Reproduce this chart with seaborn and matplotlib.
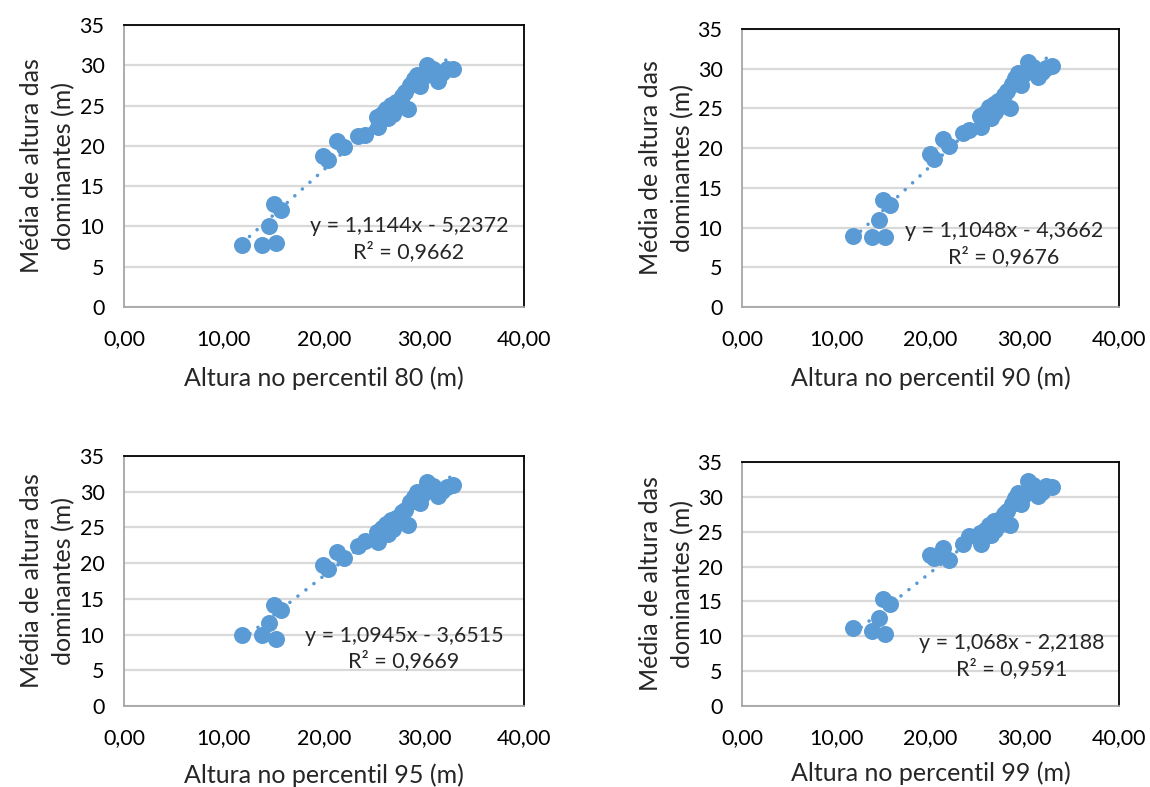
import matplotlib
matplotlib.use("Agg")
import matplotlib.pyplot as plt
import seaborn as sns
import numpy as np
import pandas as pd

# ---- data ----
x_vals = [11.8, 13.8, 15.2, 14.5, 15.0, 15.7, 19.9, 20.4, 21.3, 22.0, 23.4, 24.1,
          25.3, 25.4, 25.8, 26.2, 26.4, 26.7, 26.9, 27.2, 27.5, 27.8, 28.4, 28.1,
          28.6, 29.0, 29.3, 29.6, 29.9, 30.3, 30.6, 30.9, 31.4, 31.8, 32.3, 32.9]
y_p80 = [7.7, 7.7, 8.0, 10.1, 12.8, 12.1, 18.8, 18.2, 20.6, 19.9, 21.2, 21.4,
         23.6, 22.4, 23.9, 24.6, 23.4, 25.1, 24.0, 25.4, 24.9, 26.2, 24.6, 26.7,
         27.6, 28.3, 28.8, 27.4, 28.6, 30.1, 29.3, 29.6, 28.1, 29.0, 29.5, 29.5]
y_p90 = [8.9, 8.8, 8.8, 10.9, 13.5, 12.8, 19.3, 18.6, 21.1, 20.3, 21.9, 22.3,
         24.0, 22.6, 24.4, 25.2, 23.8, 25.6, 24.5, 25.9, 25.3, 26.7, 25.0, 27.2,
         28.1, 28.8, 29.4, 28.0, 29.3, 30.8, 29.9, 30.2, 28.9, 29.6, 30.1, 30.3]
y_p95 = [10.0, 9.9, 9.4, 11.6, 14.2, 13.5, 19.8, 19.2, 21.6, 20.7, 22.4, 23.1,
         24.4, 22.9, 24.9, 25.5, 24.1, 26.0, 24.8, 26.3, 25.8, 27.1, 25.4, 27.5,
         28.5, 29.2, 29.9, 28.4, 29.7, 31.4, 30.5, 30.8, 29.4, 30.1, 30.7, 30.9]
y_p99 = [11.2, 10.8, 10.3, 12.6, 15.3, 14.6, 21.7, 21.2, 22.6, 21.0, 23.2, 24.4,
         24.8, 23.3, 25.3, 26.0, 24.5, 26.5, 25.2, 26.7, 26.1, 27.5, 26.0, 28.0,
         29.0, 29.8, 30.5, 29.0, 30.3, 32.2, 31.3, 31.7, 30.1, 30.7, 31.6, 31.4]

percentis = ["80", "90", "95", "99"]
slopes = [1.1144, 1.1048, 1.0945, 1.068]
intercepts = [-5.2372, -4.3662, -3.6515, -2.2188]
eq_labels = ["y = 1,1144x - 5,2372\nR² = 0,9662",
             "y = 1,1048x - 4,3662\nR² = 0,9676",
             "y = 1,0945x - 3,6515\nR² = 0,9669",
             "y = 1,068x - 2,2188\nR² = 0,9591"]
x_ticks = [0, 10, 20, 30, 40]
x_tick_labels = ["0,00", "10,00", "20,00", "30,00", "40,00"]
y_ticks = [0, 5, 10, 15, 20, 25, 30, 35]

# ---- style ----
sns.set_theme(style="white")
plt.rcParams['font.family'] = ['Lato', 'DejaVu Sans']

BLUE = "#5B9BD5"
fig = plt.figure(figsize=(11.5, 7.87), dpi=100)

# axes rectangles [left, bottom, width, height]
rects = [
    [0.1078, 0.6099, 0.3478, 0.3583],
    [0.6452, 0.6099, 0.3278, 0.3533],
    [0.1078, 0.1029, 0.3478, 0.3177],
    [0.6452, 0.1029, 0.3278, 0.3101],
]
eq_pos = [(28.5, 8.45), (27.8, 7.9), (28.0, 8.05), (28.6, 7.2)]
ylab_x = [-0.19, -0.20, -0.19, -0.20]
xlab_y = [-0.252, -0.255, -0.276, -0.276]

ys = [y_p80, y_p90, y_p95, y_p99]

for i in range(4):
    ax = fig.add_axes(rects[i])
    df = pd.DataFrame({"x": x_vals, "y": ys[i]})
    # trend line
    xl = np.array([min(x_vals), max(x_vals)])
    ax.plot(xl, slopes[i] * xl + intercepts[i], color=BLUE, lw=2.6,
            linestyle=(0, (0.01, 2.8)), dash_capstyle="round", zorder=2)
    sns.scatterplot(data=df, x="x", y="y", ax=ax, color=BLUE, s=150,
                    linewidth=0, alpha=1, zorder=3, legend=False)
    ax.set_xlim(0, 40)
    ax.set_ylim(0, 35)
    ax.set_xticks(x_ticks)
    ax.set_xticklabels(x_tick_labels)
    ax.set_yticks(y_ticks)
    ax.set_yticklabels([str(v) for v in y_ticks])
    ax.tick_params(axis="both", length=0, labelsize=15.5, colors="#000000")
    ax.tick_params(axis="x", pad=16)
    ax.tick_params(axis="y", pad=14)
    ax.yaxis.grid(True, color="#D9D9D9", lw=1.6)
    ax.xaxis.grid(False)
    ax.set_axisbelow(True)
    for side in ["top", "right"]:
        ax.spines[side].set_color("#000000")
        ax.spines[side].set_linewidth(1.3)
    for side in ["left", "bottom"]:
        ax.spines[side].set_color("#A6A6A6")
        ax.spines[side].set_linewidth(1.3)
    ax.set_xlabel(f"Altura no percentil {percentis[i]} (m)", fontsize=18)
    ax.set_ylabel("Média de altura das\ndominantes (m)", fontsize=18)
    ax.yaxis.label.set_linespacing(1.45)
    ax.xaxis.set_label_coords(0.5, xlab_y[i])
    ax.xaxis.label.set_va("center")
    ax.yaxis.set_label_coords(ylab_x[i], 0.5)
    ax.yaxis.label.set_va("center")
    ax.text(eq_pos[i][0], eq_pos[i][1], eq_labels[i], ha="center", va="center",
            multialignment="center", fontsize=15.5, linespacing=1.3, zorder=4)

fig.savefig("out.png", dpi=100)
